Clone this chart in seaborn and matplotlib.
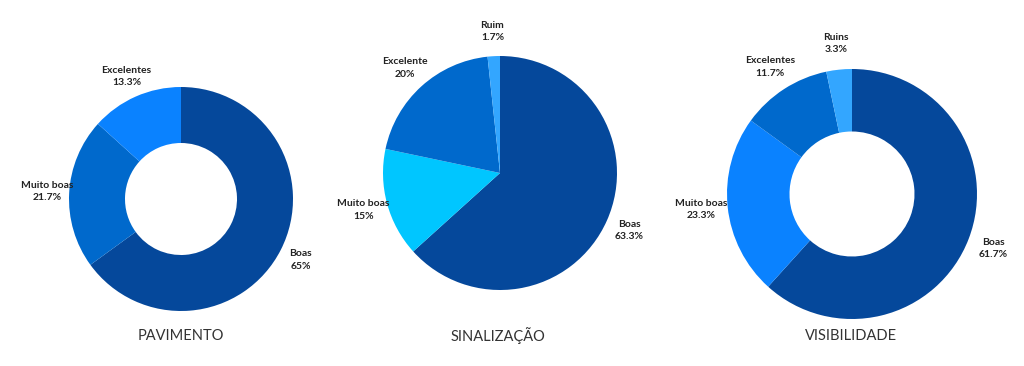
import matplotlib
matplotlib.use("Agg")
import matplotlib.pyplot as plt
import seaborn as sns

sns.set_theme(style="white")
plt.rcParams['font.family'] = ['Lato', 'DejaVu Sans']

# Data
pav_labels = ["Boas", "Muito boas", "Excelentes"]
pav_values = [65, 21.7, 13.3]
pav_pct = ["65%", "21.7%", "13.3%"]

sin_labels = ["Boas", "Muito boas", "Excelente", "Ruim"]
sin_values = [63.3, 15, 20, 1.7]
sin_pct = ["63.3%", "15%", "20%", "1.7%"]

vis_labels = ["Boas", "Muito boas", "Excelentes", "Ruins"]
vis_values = [61.7, 23.3, 11.7, 3.3]
vis_pct = ["61.7%", "23.3%", "11.7%", "3.3%"]

titles = ["PAVIMENTO", "SINALIZAÇÃO", "VISIBILIDADE"]

# Styles
DARK = "#05489B"
MID = "#0069CC"
BRIGHT = "#0A82FF"
LIGHT = "#33A6FF"
CYAN = "#00C6FF"
pav_colors = sns.color_palette([DARK, MID, BRIGHT])
sin_colors = sns.color_palette([DARK, CYAN, MID, LIGHT])
vis_colors = sns.color_palette([DARK, BRIGHT, MID, LIGHT])

W, H = 1024, 366
fig = plt.figure(figsize=(W / 100, H / 100), dpi=100)
ax = fig.add_axes([0, 0, 1, 1])

charts = [
    (pav_labels, pav_values, pav_pct, pav_colors, (181, H - 199), 112, 0.5, 1.2, (181, H - 336)),
    (sin_labels, sin_values, sin_pct, sin_colors, (500, H - 173), 117, None, 1.21, (498, H - 336)),
    (vis_labels, vis_values, vis_pct, vis_colors, (852, H - 194), 125, 0.5, 1.21, (851, H - 336)),
]

for (labels, values, pct, colors, center, radius, width, ldist, tpos), title in zip(charts, titles):
    wedgeprops = {"linewidth": 0, "edgecolor": "none"}
    if width is not None:
        wedgeprops["width"] = width * radius
    texts_lab = [f"{l}\n{p}" for l, p in zip(labels, pct)]
    wedges, texts = ax.pie(values, labels=texts_lab, colors=colors, startangle=90,
                           counterclock=False, center=center, radius=radius,
                           labeldistance=ldist, wedgeprops=wedgeprops,
                           textprops={"fontsize": 7.5, "fontweight": "bold", "color": "#222222"})
    for t in texts:
        t.set_ha("center")
        t.set_va("center")
        t.set_multialignment("center")
        t.set_linespacing(1.45)
    ax.text(tpos[0], tpos[1], title, ha="center", va="center", fontsize=10.5, color="#333333")

ax.set_xlim(0, W)
ax.set_ylim(0, H)
ax.set_aspect("equal")
ax.axis("off")

fig.savefig("out.png", dpi=100, facecolor="white")
